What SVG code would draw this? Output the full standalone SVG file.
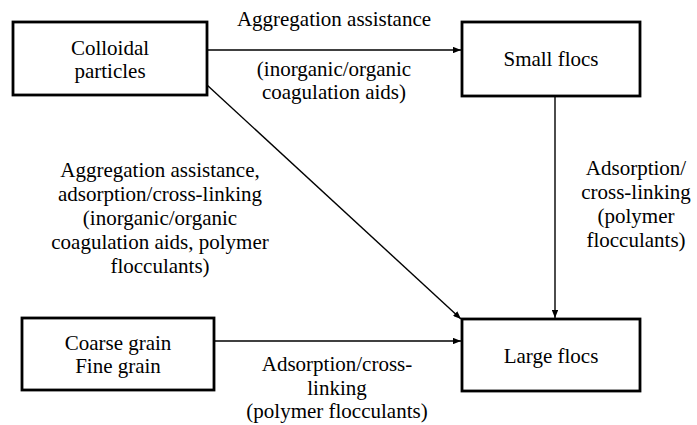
<svg xmlns="http://www.w3.org/2000/svg" width="697" height="425" viewBox="0 0 697 425">
<style>
.box{fill:#fff;stroke:#000;stroke-width:2.8}
.t{font-family:"Liberation Serif","Times New Roman",serif;font-size:21px;fill:#000;text-anchor:middle}
.c{stroke:#000;stroke-width:1.4;fill:none;marker-end:url(#ah)}
</style>
<defs>
<marker id="ah" viewBox="0 0 10 8" refX="10" refY="4" markerWidth="8" markerHeight="6.4" markerUnits="userSpaceOnUse" orient="auto">
<path d="M0,0 L10,4 L0,8 Z" fill="#000"/>
</marker>
</defs>
<rect width="697" height="425" fill="#fff"/>
<g id="connectors">
<line class="c" x1="207" y1="50" x2="461" y2="50"/>
<line class="c" x1="207" y1="85" x2="461" y2="319"/>
<line class="c" x1="555" y1="96" x2="555" y2="318"/>
<line class="c" x1="214" y1="341" x2="461" y2="341"/>
<text class="t" x="334" y="26">Aggregation assistance</text>
<text class="t" x="334" y="76">(inorganic/organic</text>
<text class="t" x="334" y="99">coagulation aids)</text>
<text class="t" x="160" y="177">Aggregation assistance,</text>
<text class="t" x="160" y="201">adsorption/cross-linking</text>
<text class="t" x="160" y="225">(inorganic/organic</text>
<text class="t" x="160" y="249">coagulation aids, polymer</text>
<text class="t" x="160" y="273">flocculants)</text>
<text class="t" x="636" y="175">Adsorption/</text>
<text class="t" x="636" y="199">cross-linking</text>
<text class="t" x="636" y="223">(polymer</text>
<text class="t" x="636" y="247">flocculants)</text>
<text class="t" x="337" y="371">Adsorption/cross-</text>
<text class="t" x="337" y="394.5">linking</text>
<text class="t" x="337" y="418">(polymer flocculants)</text>
</g>
<g id="colloidal">
<rect class="box" x="13" y="22" width="194" height="73"/>
<text class="t" x="110" y="55">Colloidal</text>
<text class="t" x="110" y="78">particles</text>
</g>
<g id="small-flocs">
<rect class="box" x="462" y="22" width="178" height="74"/>
<text class="t" x="551" y="66">Small flocs</text>
</g>
<g id="coarse">
<rect class="box" x="22" y="318" width="192" height="72"/>
<text class="t" x="118" y="350">Coarse grain</text>
<text class="t" x="118" y="373">Fine grain</text>
</g>
<g id="large-flocs">
<rect class="box" x="462" y="319" width="178" height="72"/>
<text class="t" x="551" y="363">Large flocs</text>
</g>
</svg>
